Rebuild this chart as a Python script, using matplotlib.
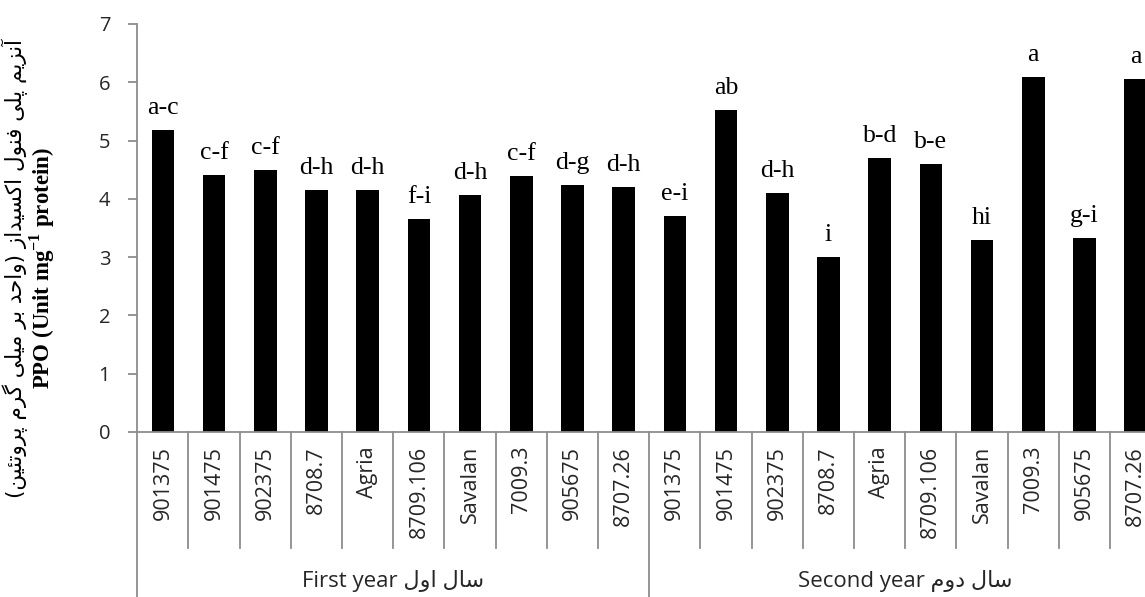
import numpy as np
import matplotlib
matplotlib.use('Agg')
import matplotlib.pyplot as plt

plt.rcParams['mathtext.fontset'] = 'custom'
plt.rcParams['mathtext.rm'] = 'Liberation Serif'
plt.rcParams['mathtext.bf'] = 'Liberation Serif:bold'

# PPO activity per genotype, two growing seasons
genotypes = ['901375', '901475', '902375', '8708.7', 'Agria',
             '8709.106', 'Savalan', '7009.3', '905675', '8707.26']
ppo_year1 = [5.18, 4.41, 4.49, 4.16, 4.16, 3.66, 4.06, 4.39, 4.23, 4.21]
ppo_year2 = [3.70, 5.53, 4.10, 3.00, 4.70, 4.60, 3.29, 6.09, 3.33, 6.05]
groups1 = ['a-c', 'c-f', 'c-f', 'd-h', 'd-h', 'f-i', 'd-h', 'c-f', 'd-g', 'd-h']
groups2 = ['e-i', 'ab', 'd-h', 'i', 'b-d', 'b-e', 'hi', 'a', 'g-i', 'a']
year_names = ['First year', 'Second year']
year_names_fa = ['سال اول', 'سال دوم']
ylabel_fa = 'آنزیم پلی فنول اکسیداز (واحد بر میلی گرم پروتئین)'
ylabel_en = r'PPO (Unit mg$^{\mathbf{-1}}$ protein)'

# contextual forms: isolated, final, initial, medial
FORMS = {
    'ا': (0xFE8D, 0xFE8E), 'آ': (0xFE81, 0xFE82),
    'ب': (0xFE8F, 0xFE90, 0xFE91, 0xFE92), 'پ': (0xFB56, 0xFB57, 0xFB58, 0xFB59),
    'ت': (0xFE95, 0xFE96, 0xFE97, 0xFE98), 'ح': (0xFEA1, 0xFEA2, 0xFEA3, 0xFEA4),
    'د': (0xFEA9, 0xFEAA), 'ر': (0xFEAD, 0xFEAE), 'ز': (0xFEAF, 0xFEB0),
    'س': (0xFEB1, 0xFEB2, 0xFEB3, 0xFEB4), 'ف': (0xFED1, 0xFED2, 0xFED3, 0xFED4),
    'ک': (0xFB8E, 0xFB8F, 0xFB90, 0xFB91), 'گ': (0xFB92, 0xFB93, 0xFB94, 0xFB95),
    'ل': (0xFEDD, 0xFEDE, 0xFEDF, 0xFEE0), 'م': (0xFEE1, 0xFEE2, 0xFEE3, 0xFEE4),
    'ن': (0xFEE5, 0xFEE6, 0xFEE7, 0xFEE8), 'و': (0xFEED, 0xFEEE),
    'ی': (0xFBFC, 0xFBFD, 0xFBFE, 0xFBFF), 'ئ': (0xFE89, 0xFE8A, 0xFE8B, 0xFE8C),
}


def shape_rtl(s):
    out = []
    for i, c in enumerate(s):
        if c not in FORMS:
            out.append(c)
            continue
        f = FORMS[c]
        prev = s[i - 1] if i > 0 else ''
        nxt = s[i + 1] if i + 1 < len(s) else ''
        jp = prev in FORMS and len(FORMS[prev]) == 4
        jn = len(f) == 4 and nxt in FORMS
        if jp and jn:
            k = 3
        elif jp:
            k = 1
        elif jn:
            k = 2
        else:
            k = 0
        out.append(chr(f[k]))
    vis = ''.join(out)[::-1]
    return vis.translate(str.maketrans('()', ')('))


values = ppo_year1 + ppo_year2
letters = groups1 + groups2
labels = genotypes + genotypes
x = np.arange(len(values))

grey = '#8c8c8c'
fig = plt.figure(figsize=(11.45, 5.97), dpi=100)
ax = fig.add_axes([0.1199, 0.2764, 0.8943, 0.6834])

ax.bar(x, values, width=0.443, color='black')
for xi, v, t in zip(x, values, letters):
    ax.annotate(t, (xi, v), xytext=(0, 11.5), textcoords='offset points',
                ha='center', va='baseline', fontsize=18.5,
                family='Liberation Serif', color='black')

ax.set_xlim(-0.5, len(values) - 0.5)
ax.set_ylim(0, 7)
ax.set_yticks(range(0, 8))
ax.set_xticks(x)
ax.set_xticklabels(labels, rotation=90, fontsize=15.5, family='Open Sans', color='#262626')
ax.tick_params(axis='x', length=0, pad=10)
ax.tick_params(axis='y', length=6.5, width=1.3, color=grey, pad=13,
               labelsize=14.5, labelcolor='#262626')
for lab in ax.get_yticklabels():
    lab.set_family('Open Sans')

for side in ['top', 'right']:
    ax.spines[side].set_visible(False)
for side in ['left', 'bottom']:
    ax.spines[side].set_color(grey)
    ax.spines[side].set_linewidth(1.3)

# category separators below the axis, longer at year boundaries
trans = ax.get_xaxis_transform()
for b in np.arange(-0.5, len(values), 1.0):
    bottom = -0.5 if b in (-0.5, 9.5, 19.5) else -0.284
    ax.plot([b, b], [0, bottom], transform=trans, color=grey, lw=1.3, clip_on=False)

for gi, (en, fa) in enumerate(zip(year_names, year_names_fa)):
    ax.text(gi * 10 + 4.5, -0.366, en + ' ' + shape_rtl(fa), transform=trans,
            ha='center', va='center', fontsize=16,
            family=['Open Sans', 'DejaVu Sans'], color='#262626')

fig.text(15 / 1145, 1 - 268 / 597, shape_rtl(ylabel_fa), rotation=90,
         ha='center', va='center', fontsize=15.5, family='DejaVu Sans', color='black')
fig.text(42 / 1145, 1 - 268 / 597, ylabel_en, rotation=90, ha='center', va='center',
         fontsize=16.5, family='Liberation Serif', fontweight='bold', color='black')

fig.savefig('out.png', dpi=100)
